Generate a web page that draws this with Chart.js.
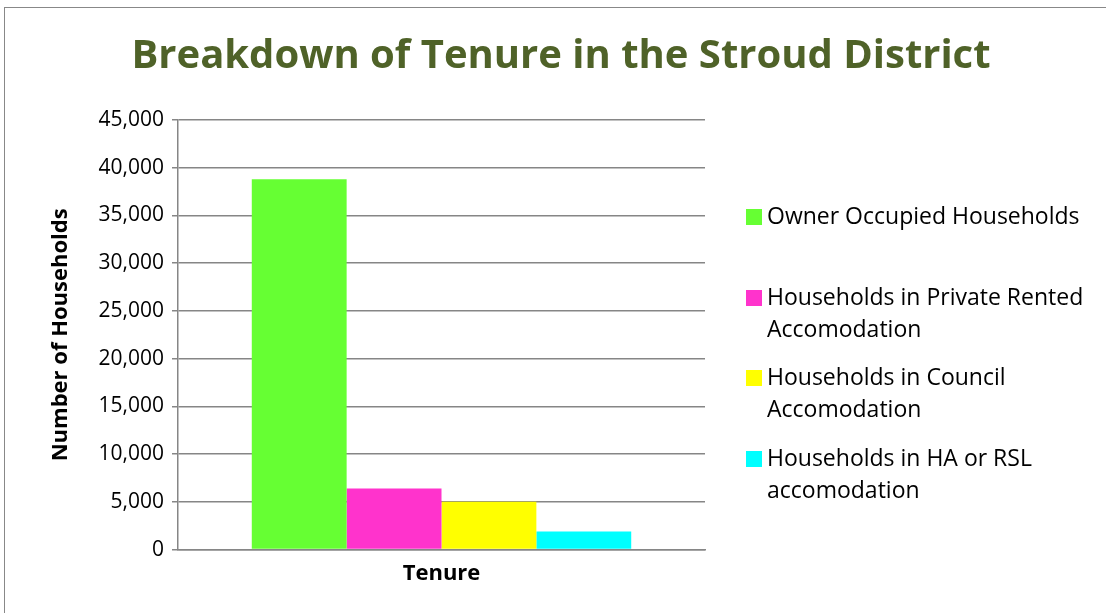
<!DOCTYPE html>
<html>
<head>
<meta charset="utf-8">
<script src="https://cdn.jsdelivr.net/npm/chart.js@4/dist/chart.umd.min.js"></script>
<style>
  html, body { margin: 0; padding: 0; background: #fff; }
  #wrap { width: 1106px; height: 613px; position: relative; }
</style>
</head>
<body>
<div id="wrap"><canvas id="chart" width="1106" height="613"></canvas></div>
<script>
// Данные графика
const chartTitle = 'Breakdown of Tenure in the Stroud District';
const categories = ['Tenure'];
const seriesNames = [
    ['Owner Occupied Households'],
    ['Households in Private Rented', 'Accomodation'],
    ['Households in Council', 'Accomodation'],
    ['Households in HA or RSL', 'accomodation']
];
const seriesValues = [38800, 6400, 5000, 1900];
const seriesColors = ['#66ff33', '#ff33cc', '#ffff00', '#00ffff'];
const yTicks = [0, 5000, 10000, 15000, 20000, 25000, 30000, 35000, 40000, 45000];

const FONT = "'Open Sans', sans-serif";

// Рамка и заголовок по центру всей диаграммы
const framePlugin = {
    id: 'frame',
    beforeDraw(chart) {
        const ctx = chart.ctx;
        ctx.save();
        ctx.fillStyle = '#fff';
        ctx.fillRect(0, 0, chart.width, chart.height);
        ctx.strokeStyle = '#888';
        ctx.lineWidth = 1;
        ctx.strokeRect(4.5, 7.5, chart.width + 10, chart.height + 10);
        ctx.fillStyle = '#4f6228';
        ctx.font = 'bold 40px ' + FONT;
        ctx.textAlign = 'center';
        ctx.textBaseline = 'middle';
        ctx.fillText(chartTitle, chart.width / 2 + 8, 57);
        ctx.restore();
    }
};

// Легенда справа, с переносом строк
const legendPlugin = {
    id: 'sideLegend',
    afterDraw(chart) {
        const ctx = chart.ctx;
        const x = chart.chartArea.right + 41;
        const rows = [217, 298, 378, 459];
        ctx.save();
        ctx.font = '23px ' + FONT;
        ctx.textBaseline = 'middle';
        chart.data.datasets.forEach((ds, i) => {
            const y = rows[i];
            ctx.fillStyle = ds.backgroundColor;
            ctx.fillRect(x, y - 8, 16, 16);
            ctx.fillStyle = '#000';
            seriesNames[i].forEach((line, j) => {
                ctx.fillText(line, x + 21, y + j * 32);
            });
        });
        ctx.restore();
    }
};

new Chart(document.getElementById('chart'), {
    type: 'bar',
    data: {
        labels: categories,
        datasets: seriesValues.map((v, i) => ({
            label: seriesNames[i].join(' '),
            data: [v],
            backgroundColor: seriesColors[i],
            borderWidth: 0,
            categoryPercentage: 0.72,
            barPercentage: 1.0
        }))
    },
    options: {
        responsive: false,
        animation: false,
        layout: { padding: { left: 48, right: 401, top: 120, bottom: 26 } },
        plugins: {
            legend: { display: false },
            tooltip: { enabled: false },
            title: { display: false }
        },
        scales: {
            x: {
                grid: { display: false, drawTicks: false },
                border: { color: '#868686', width: 1.5 },
                ticks: { display: false },
                title: {
                    display: true,
                    text: 'Tenure',
                    color: '#000',
                    font: { family: FONT, size: 22, weight: 'bold' },
                    padding: { top: 11, bottom: 0 }
                }
            },
            y: {
                min: 0,
                max: 45000,
                afterBuildTicks(scale) {
                    scale.ticks = yTicks.map(v => ({ value: v }));
                },
                afterFit(scale) { scale.width = 130; },
                grid: { color: '#868686', lineWidth: 1.5, tickLength: 6 },
                border: { color: '#868686', width: 1.5 },
                ticks: {
                    color: '#000',
                    font: { family: FONT, size: 21 },
                    padding: 8,
                    callback: v => v.toLocaleString('en-US')
                },
                title: {
                    display: true,
                    text: 'Number of Households',
                    color: '#000',
                    font: { family: FONT, size: 22, weight: 'bold' },
                    padding: { top: 0, bottom: 6 }
                }
            }
        }
    },
    plugins: [framePlugin, legendPlugin]
});
</script>
</body>
</html>
